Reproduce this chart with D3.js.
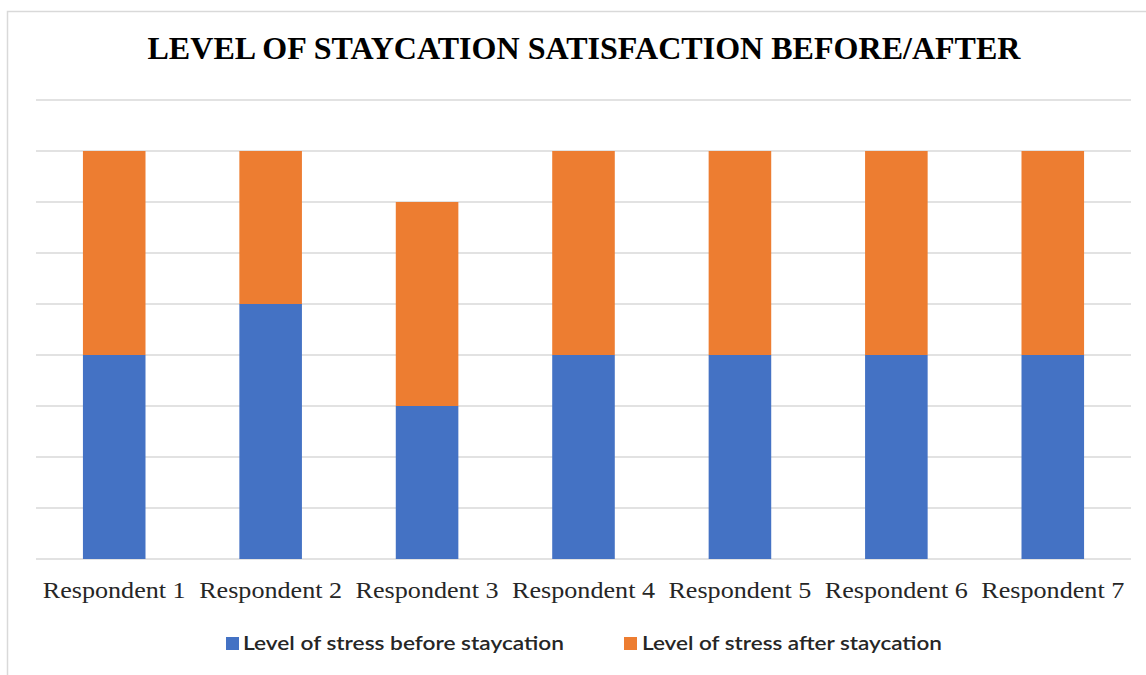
<!DOCTYPE html>
<html><head><meta charset="utf-8">
<script src="https://cdn.jsdelivr.net/npm/d3@7"></script>
<style>html,body{margin:0;padding:0;background:#fff;}svg{display:block;}</style>
</head><body>
<svg id="chart" width="1146" height="675"></svg>
<script>
const categories = ["Respondent 1","Respondent 2","Respondent 3","Respondent 4","Respondent 5","Respondent 6","Respondent 7"];
const seriesNames = ["Level of stress before staycation","Level of stress after staycation"];
const before = [4,5,3,4,4,4,4];
const after = [4,3,4,4,4,4,4];
const gridTicks = [0,1,2,3,4,5,6,7,8,9];
const colors = ["#4472c4","#ed7d31"];
const title = "LEVEL OF STAYCATION SATISFACTION BEFORE/AFTER";

const svg = d3.select("#chart");
svg.append("rect").attr("x",7.5).attr("y",11.5).attr("width",1160).attr("height",680)
  .attr("fill","#fff").attr("stroke","#d9d9d9").attr("stroke-width",1.5);

const x = d3.scaleBand().domain(categories).range([36,1131]).paddingInner(0.6).paddingOuter(0.3);
const y = d3.scaleLinear().domain([0,9]).range([559,100]);

svg.append("g").selectAll("line").data(gridTicks).join("line")
  .attr("x1",36).attr("x2",1131).attr("y1",d=>y(d)).attr("y2",d=>y(d))
  .attr("stroke","#d9d9d9").attr("stroke-width",1.5);

const rows = categories.map((c,i)=>({cat:c, before:before[i], after:after[i]}));
const stack = d3.stack().keys(["before","after"])(rows);
svg.append("g").selectAll("g").data(stack).join("g").attr("fill",(d,i)=>colors[i])
  .selectAll("rect").data(d=>d).join("rect")
  .attr("x",d=>x(d.data.cat)).attr("width",x.bandwidth())
  .attr("y",d=>y(d[1])).attr("height",d=>y(d[0])-y(d[1]));

svg.append("g").selectAll("text").data(categories).join("text")
  .attr("x",d=>x(d)+x.bandwidth()/2).attr("y",598).attr("text-anchor","middle")
  .attr("font-family","'Liberation Serif','Times New Roman',serif").attr("font-size",23)
  .attr("fill","#262626").attr("textLength",143).attr("lengthAdjust","spacingAndGlyphs")
  .text(d=>d);

svg.append("text").attr("x",584).attr("y",59).attr("text-anchor","middle")
  .attr("font-family","'Liberation Serif','Times New Roman',serif").attr("font-weight","bold")
  .attr("font-size",31).attr("fill","#000").attr("textLength",873).attr("lengthAdjust","spacingAndGlyphs")
  .text(title);

const legendItems = [
  {name:seriesNames[0], sx:226, tx:243, tw:321, color:colors[0]},
  {name:seriesNames[1], sx:624, tx:642, tw:300, color:colors[1]}
];
const lg = svg.append("g").selectAll("g").data(legendItems).join("g");
lg.append("rect").attr("x",d=>d.sx).attr("y",637).attr("width",13).attr("height",13).attr("fill",d=>d.color);
lg.append("text").attr("x",d=>d.tx).attr("y",650)
  .attr("font-family","Lato,'Open Sans',sans-serif").attr("font-size",20).attr("font-weight","600")
  .attr("fill","#262626").attr("textLength",d=>d.tw).attr("lengthAdjust","spacingAndGlyphs")
  .text(d=>d.name);
</script>
</body></html>
